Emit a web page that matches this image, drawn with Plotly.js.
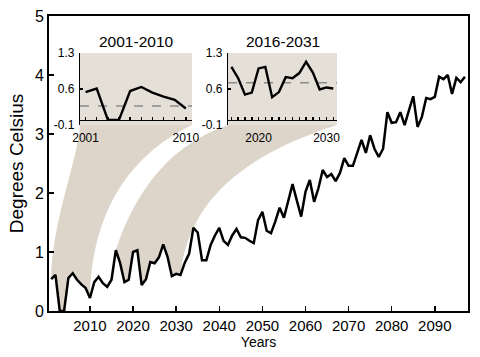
<!DOCTYPE html>
<html>
<head>
<meta charset="utf-8">
<script src="https://cdn.plot.ly/plotly-3.0.1.min.js"></script>
<style>html,body{margin:0;padding:0;background:#fff;}#chart{width:480px;height:357px;}</style>
</head>
<body>
<div id="chart"></div>
<script>
const years = [2001,2002,2003,2004,2005,2006,2007,2008,2009,2010,
  2011,2012,2013,2014,2015,2016,2017,2018,2019,2020,
  2021,2022,2023,2024,2025,2026,2027,2028,2029,2030,
  2031,2032,2033,2034,2035,2036,2037,2038,2039,2040,
  2041,2042,2043,2044,2045,2046,2047,2048,2049,2050,
  2051,2052,2053,2054,2055,2056,2057,2058,2059,2060,
  2061,2062,2063,2064,2065,2066,2067,2068,2069,2070,
  2071,2072,2073,2074,2075,2076,2077,2078,2079,2080,
  2081,2082,2083,2084,2085,2086,2087,2088,2089,2090,
  2091,2092,2093,2094,2095,2096,2097];
const temps = [0.54,0.61,0.00,0.00,0.56,0.64,0.53,0.45,0.39,0.22,
  0.49,0.58,0.47,0.41,0.53,1.03,0.81,0.49,0.53,1.00,
  1.03,0.44,0.54,0.83,0.81,0.91,1.13,0.92,0.59,0.63,
  0.61,0.82,0.97,1.41,1.33,0.86,0.86,1.12,1.28,1.41,
  1.19,1.12,1.28,1.39,1.25,1.24,1.19,1.15,1.54,1.68,
  1.36,1.32,1.52,1.75,1.58,1.85,2.15,1.87,1.60,2.02,
  2.22,1.85,2.08,2.39,2.27,2.32,2.20,2.34,2.59,2.46,
  2.46,2.68,2.90,2.68,2.98,2.75,2.61,2.75,3.37,3.19,
  3.20,3.37,3.15,3.40,3.64,3.12,3.29,3.61,3.59,3.63,
  3.97,3.93,4.00,3.68,3.95,3.88,3.97];
const xTicks = [2010,2020,2030,2040,2050,2060,2070,2080,2090];
const yTicks = [0,1,2,3,4,5];
const insetPeriods = [[2001,2010],[2016,2031]];
const insetTitles = ['2001-2010','2016-2031'];
const insetXLabels = [[2001,2010],[2020,2030]];
const insetYTicks = [-0.1,0.6,1.3];
const insetRefs = [0.27,0.72];

const W=480,H=357, L=49, R=12, T=16, B=46;
const plotW = W-L-R, plotH = H-T-B;
const xr = [2000.5, 2097.7], yr = [0,5];
const iyr = [-0.1, 1.3];
const FONT = 'Liberation Sans, Arial, Helvetica, sans-serif';
const BEIGE = '#e5e0d7', WEDGE = '#ddd5ca';

function pxX(x){return (x-L)/plotW;}
function pxY(y){return (T+plotH-y)/plotH;}
function dX(v){return (v-xr[0])/(xr[1]-xr[0]);}
function dY(v){return (v-yr[0])/(yr[1]-yr[0]);}

const insetDomX = [[pxX(80),pxX(192)],[pxX(228),pxX(337)]];
const insetDomY = [pxY(125),pxY(53)];
const wedgeCtl = [
  {l:[[78,160],[52,220]], r:[[92,200],[140,150]]},
  {l:[[175,143],[137,185]], r:[[190,190],[260,150]]}
];

const traces = [{
  x: years, y: temps, type:'scatter', mode:'lines',
  line:{color:'#000', width:2.5}, xaxis:'x', yaxis:'y', hoverinfo:'none'
}];
const shapes = [];
const annotations = [];
const layout = {
  width:W, height:H, margin:{l:L,r:R,t:T,b:B},
  paper_bgcolor:'#fff', plot_bgcolor:'rgba(0,0,0,0)',
  showlegend:false, font:{family:FONT, color:'#000'},
  xaxis:{range:xr, tickvals:xTicks, ticks:'inside', ticklen:5, tickwidth:1.5, tickcolor:'#000',
    showline:true, linewidth:2, linecolor:'#000', mirror:true, showgrid:false, zeroline:false,
    tickfont:{size:15, family:FONT}, title:{text:'Years', font:{size:14, family:FONT}, standoff:2}},
  yaxis:{range:yr, tickvals:yTicks, ticks:'inside', ticklen:5, tickwidth:1.5, tickcolor:'#000',
    showline:true, linewidth:2, linecolor:'#000', mirror:true, showgrid:false, zeroline:false,
    tickfont:{size:16, family:FONT}, title:{text:'Degrees Celsius', font:{size:19, family:FONT}, standoff:6}},
  shapes: shapes, annotations: annotations
};

insetPeriods.forEach((p,i)=>{
  const k = i+2;
  const xa = 'x'+k, ya = 'y'+k;
  const i0 = years.indexOf(p[0]), i1 = years.indexOf(p[1]);
  const sx = years.slice(i0,i1+1), sy = temps.slice(i0,i1+1);
  traces.push({x:sx, y:sy, type:'scatter', mode:'lines', line:{color:'#000', width:2.4},
    xaxis:xa, yaxis:ya, hoverinfo:'none', cliponaxis:false});
  const dx = insetDomX[i];
  const zeroPos = insetDomY[0] + (0-iyr[0])/(iyr[1]-iyr[0])*(insetDomY[1]-insetDomY[0]);
  layout['xaxis'+k] = {domain:dx, range:[p[0]-0.5, p[1]+0.55], anchor:'free', position:zeroPos,
    tickvals:sx, ticktext:sx.map(v=> insetXLabels[i].includes(v)? String(v):''),
    ticks:'inside', ticklen:3, tickwidth:1.5, tickcolor:'#000', ticklabelstandoff:6,
    showline:true, linewidth:1.5, linecolor:'#000', showgrid:false, zeroline:false,
    tickfont:{size:12, family:FONT}};
  layout['yaxis'+k] = {domain:insetDomY, range:iyr, anchor:xa, tickvals:insetYTicks,
    ticktext:insetYTicks.map(v=>String(v)),
    ticks:'inside', ticklen:3, tickwidth:1.2, tickcolor:'#000', ticklabelstandoff:2,
    showline:true, linewidth:1.2, linecolor:'#000', showgrid:false, zeroline:false,
    tickfont:{size:12, family:FONT}};
  shapes.push({type:'rect', xref:xa+' domain', yref:ya+' domain', x0:0, x1:1, y0:0, y1:1,
    fillcolor:BEIGE, line:{width:0}, layer:'below'});
  shapes.push({type:'line', xref:xa+' domain', yref:ya, x0:0, x1:1, y0:insetRefs[i], y1:insetRefs[i],
    line:{color:'#8a8a8a', width:1.5, dash:'dash'}, layer:'below'});
  annotations.push({text:insetTitles[i], xref:xa+' domain', yref:ya+' domain', x:0.5, y:1,
    yanchor:'bottom', yshift:1, showarrow:false,
    font:{size:15.5, family:FONT, color:'#000', weight:'normal'}});
  const c = wedgeCtl[i];
  const P = (a)=> a[0]+','+a[1];
  const cp = (q)=> [pxX(q[0]), pxY(q[1])];
  let d = 'M '+dx[0]+','+insetDomY[0];
  d += ' C '+P(cp(c.l[0]))+' '+P(cp(c.l[1]))+' '+dX(sx[0])+','+dY(sy[0]);
  for(let j=1;j<sx.length;j++) d += ' L '+dX(sx[j])+','+dY(sy[j]);
  d += ' C '+P(cp(c.r[0]))+' '+P(cp(c.r[1]))+' '+dx[1]+','+insetDomY[0]+' Z';
  shapes.push({type:'path', xref:'paper', yref:'paper', path:d, fillcolor:WEDGE, line:{width:0}, layer:'below'});
});

Plotly.newPlot('chart', traces, layout, {staticPlot:true, displayModeBar:false});
</script>
</body>
</html>
